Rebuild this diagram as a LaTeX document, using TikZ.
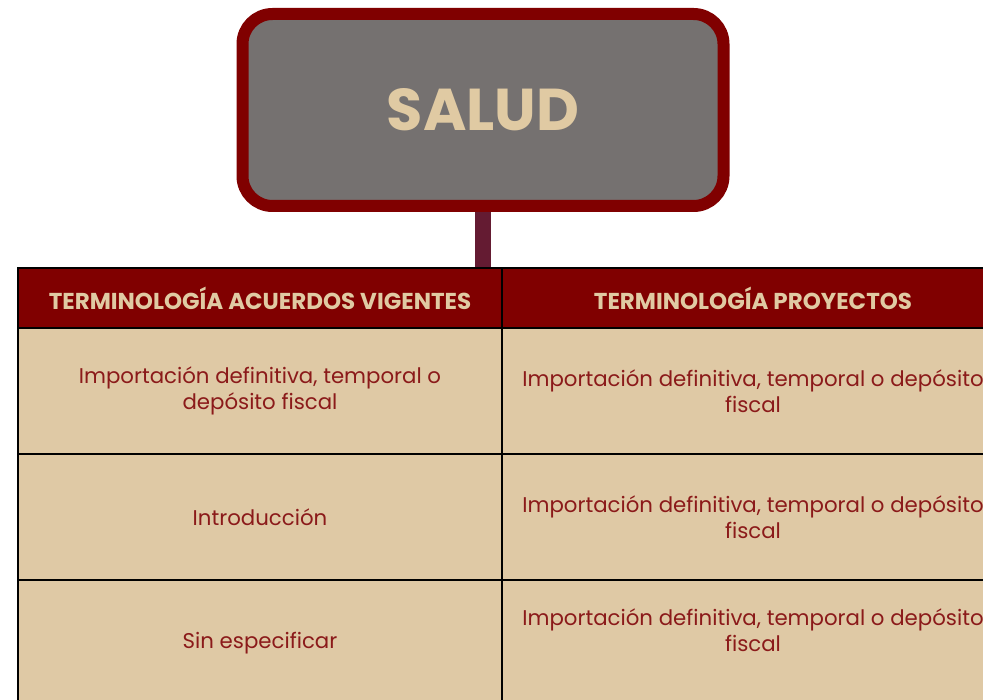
\documentclass[tikz,border=0pt]{standalone}
\usepackage{fontspec}
\setmainfont{Poppins}
\definecolor{guinda}{HTML}{800000}
\definecolor{arena}{HTML}{DFC9A5}
\definecolor{gris}{HTML}{757170}
\definecolor{vino}{HTML}{641B32}
\definecolor{letra}{HTML}{8B1A1A}
\definecolor{crema}{HTML}{E0CAA3}

\begin{document}
\begin{tikzpicture}[x=1pt,y=-1pt,
    celda/.style={draw=black, line width=2pt, fill=arena, text=letra,
        minimum width=484pt, minimum height=126pt, align=center,
        font=\fontsize{21.3}{26}\selectfont},
    ancha/.style={minimum width=502pt},
    cabeza/.style={celda, fill=guinda, text=crema, minimum height=60pt,
        font=\fontsize{23}{26}\selectfont\bfseries}]
    \clip (0,0) rectangle (983,700);
    \fill[white] (0,0) rectangle (983,700);

    \node[draw=guinda, fill=gris, line width=12pt, rounded corners=30pt,
        minimum width=481pt, minimum height=192pt, text=crema,
        font=\fontsize{59}{64}\selectfont\bfseries] (salud) at (483,110) {SALUD};

    \node[cabeza] (h1) at (260,298) {TERMINOLOGÍA ACUERDOS VIGENTES};
    \node[cabeza, ancha] (h2) at (753,298) {TERMINOLOGÍA PROYECTOS};

    \node[celda] (c11) at (260,391) {Importación definitiva, temporal o\\depósito fiscal};
    \node[celda, ancha] (c12) at (753,391) {Importación definitiva, temporal o depósito\\fiscal};
    \node[celda] (c21) at (260,517) {Introducción};
    \node[celda, ancha] (c22) at (753,517) {Importación definitiva, temporal o depósito\\fiscal};
    \node[celda] (c31) at (260,643) {Sin especificar};
    \node[celda, ancha] (c32) at (753,643) {};
    \node[text=letra, align=center, font=\fontsize{21.3}{26}\selectfont] (t32)
        at ([yshift=13pt]c32.center) {Importación definitiva, temporal o depósito\\fiscal};

    \draw[vino, line width=16pt] (salud.south) -- (h1.north -| salud.south);
\end{tikzpicture}
\end{document}
